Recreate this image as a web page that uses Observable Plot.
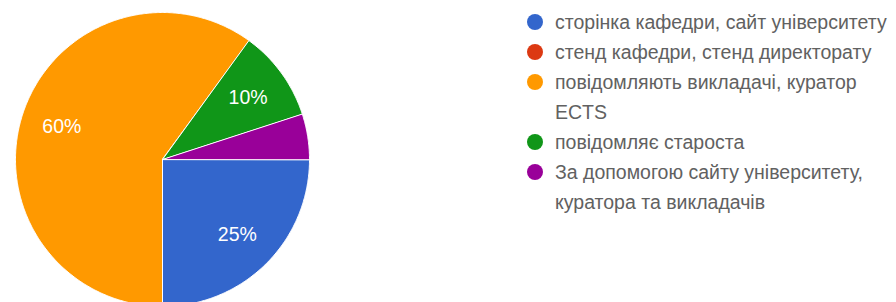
<!DOCTYPE html>
<html>
<head>
<meta charset="utf-8">
<script src="https://cdn.jsdelivr.net/npm/d3@7"></script>
<script src="https://cdn.jsdelivr.net/npm/@observablehq/plot@0.6"></script>
<style>
  html, body { margin: 0; padding: 0; background: #fff; }
  #wrap { position: relative; width: 896px; height: 302px; overflow: hidden; font-family: Arial, "Liberation Sans", sans-serif; }
  #pie { position: absolute; left: 0; top: 0; }
  #legend { position: absolute; left: 527px; top: 7px; }
  .item { display: flex; align-items: flex-start; margin: 0; }
  .sw { width: 16px; height: 16px; border-radius: 50%; margin-top: 7px; margin-right: 12px; flex: none; }
  .lbl { font-size: 19.5px; line-height: 30px; color: #616161; white-space: pre; }
</style>
</head>
<body>
<div id="wrap">
  <div id="pie"></div>
  <div id="legend"></div>
</div>
<script>
// ---- data ----
const categories = [
  "сторінка кафедри, сайт університету",
  "стенд кафедри, стенд директорату",
  "повідомляють викладачі, куратор\nECTS",
  "повідомляє староста",
  "За допомогою сайту університету,\nкуратора та викладачів"
];
const values = [25, 0, 60, 10, 5];
const colors = ["#3366cc", "#dc3912", "#ff9900", "#109618", "#990099"];

// ---- layout ----
const startDeg = 90;          // first slice starts at 3 o'clock, clockwise
const labelRadius = 0.72;
const fontFamily = "Arial, 'Liberation Sans', sans-serif";

const total = d3.sum(values);
const polys = [];
const labels = [];
let a0 = startDeg * Math.PI / 180;
values.forEach((v, i) => {
  const span = v / total * 2 * Math.PI;
  const a1 = a0 + span;
  if (v > 0) {
    const pts = [{x: 0, y: 0}];
    const n = Math.max(2, Math.ceil(span / (Math.PI / 360)));
    for (let k = 0; k <= n; k++) {
      const t = a0 + span * k / n;
      pts.push({x: Math.sin(t), y: Math.cos(t)});
    }
    polys.push({pts, color: colors[i]});
    if (v / total >= 0.08) {
      const m = (a0 + a1) / 2;
      labels.push({x: labelRadius * Math.sin(m), y: labelRadius * Math.cos(m), text: Math.round(v / total * 100) + "%"});
    }
  }
  a0 = a1;
});

const chart = Plot.plot({
  width: 330,
  height: 302,
  margin: 0,
  style: {background: "transparent", fontFamily},
  x: {domain: [-1, 1], range: [15, 309], axis: null},
  y: {domain: [-1, 1], range: [306, 12], axis: null},
  marks: [
    ...polys.map(p => Plot.line(p.pts, {x: "x", y: "y", fill: p.color, stroke: "white", strokeWidth: 1, curve: "linear-closed"})),
    Plot.text(labels, {x: "x", y: "y", text: "text", fill: "white", fontSize: 19.5, fontFamily})
  ]
});
document.getElementById("pie").appendChild(chart);

// ---- legend ----
const legend = document.getElementById("legend");
categories.forEach((c, i) => {
  const item = document.createElement("div");
  item.className = "item";
  const sw = document.createElement("span");
  sw.className = "sw";
  sw.style.background = colors[i];
  const lbl = document.createElement("span");
  lbl.className = "lbl";
  lbl.textContent = c;
  item.appendChild(sw);
  item.appendChild(lbl);
  legend.appendChild(item);
});
</script>
</body>
</html>
